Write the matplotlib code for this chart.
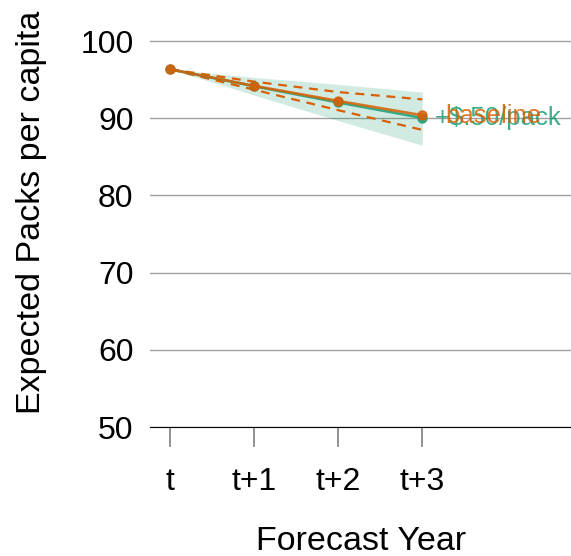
import numpy as np
import matplotlib.pyplot as plt

plt.rcParams['font.family'] = ['Liberation Sans', 'DejaVu Sans']

# forecast data
years = [0, 1, 2, 3]
year_labels = ['t', 't+1', 't+2', 't+3']
baseline = [96.35, 94.2, 92.25, 90.4]
baseline_hi = [96.35, 94.75, 93.4, 92.45]
baseline_lo = [96.35, 93.7, 91.05, 88.5]
tax = [96.35, 94.15, 92.05, 90.05]
tax_hi = [96.35, 95.3, 94.4, 93.4]
tax_lo = [96.35, 93.0, 89.7, 86.5]

orange = '#d95f02'
green = '#1b9e77'

fig = plt.figure(figsize=(5.71, 5.56), dpi=100)
ax = fig.add_axes([0.263, 0.232, 0.737, 0.694])

ax.fill_between(years, tax_lo, tax_hi, color=green, alpha=0.2, linewidth=0)
ax.plot(years, baseline_hi, color=orange, ls=(0, (4, 3)), lw=1.6)
ax.plot(years, baseline_lo, color=orange, ls=(0, (4, 3)), lw=1.6)
ax.plot(years, tax, color=green, lw=1.9, marker='o', ms=6.5, alpha=0.85)
ax.plot(years, baseline, color=orange, lw=1.9, marker='o', ms=6.5, alpha=0.85)

ax.text(3.15, tax[-1], '+$.50/pack', color=green, fontsize=18.5, va='center', ha='left', alpha=0.85)
ax.text(3.27, baseline[-1] - 0.05, 'baseline', color=orange, fontsize=18.5, va='center', ha='left', alpha=0.85)

ax.set_xlim(-0.24, 4.77)
ax.set_ylim(50, 100)
ax.set_yticks([50, 60, 70, 80, 90, 100])
ax.set_xticks(years)
ax.set_xticklabels(year_labels)
ax.grid(axis='y', color='#a0a0a0', lw=1)
ax.set_axisbelow(True)
for s in ['top', 'right', 'left']:
    ax.spines[s].set_visible(False)
ax.spines['bottom'].set_color('black')
ax.tick_params(axis='y', length=0, labelsize=23, pad=12)
ax.tick_params(axis='x', length=14.5, color='#808080', width=1.2, labelsize=23, pad=14)
ax.set_xlabel('Forecast Year', fontsize=24.5, labelpad=21)
ax.set_ylabel('Expected Packs per capita', fontsize=24.5)
ax.yaxis.set_label_coords(-0.245, 0.557)
ax.yaxis.get_gridlines()[-1].set_clip_on(False)

fig.savefig('out.png', dpi=100)
